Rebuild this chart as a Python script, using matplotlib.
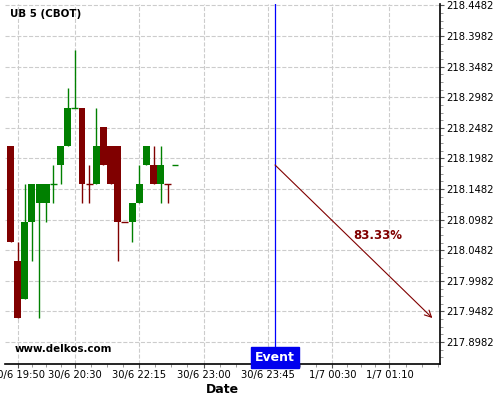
import matplotlib
matplotlib.use("Agg")
import matplotlib.pyplot as plt
from matplotlib.ticker import AutoMinorLocator, FixedLocator

# Candles (one per slot, prices in 1/32nds above 218)
opens = [218.21875, 218.03125, 217.96875, 218.09375, 218.125, 218.125, 218.15625, 218.1875,
         218.21875, 218.28125, 218.28125, 218.15625, 218.15625, 218.25, 218.21875, 218.21875,
         218.09375, 218.09375, 218.125, 218.1875, 218.1875, 218.15625, 218.15625, 218.1875]
highs = [218.21875, 218.0625, 218.15625, 218.15625, 218.15625, 218.15625, 218.1875, 218.21875,
         218.3125, 218.375, 218.28125, 218.1875, 218.28125, 218.25, 218.21875, 218.21875,
         218.09375, 218.125, 218.1875, 218.21875, 218.21875, 218.21875, 218.15625, 218.1875]
lows = [218.0625, 217.9375, 217.96875, 218.03125, 217.9375, 218.09375, 218.125, 218.15625,
        218.21875, 218.28125, 218.125, 218.125, 218.15625, 218.1875, 218.15625, 218.03125,
        218.09375, 218.0625, 218.125, 218.1875, 218.15625, 218.125, 218.125, 218.1875]
closes = [218.0625, 217.9375, 218.09375, 218.15625, 218.15625, 218.15625, 218.15625, 218.21875,
          218.28125, 218.28125, 218.15625, 218.15625, 218.21875, 218.1875, 218.15625, 218.09375,
          218.09375, 218.125, 218.15625, 218.21875, 218.15625, 218.1875, 218.15625, 218.1875]
# candle colour as shown (True = up/green)
ups = [False, False, True, True, True, True, True, True, True, True, False, False,
       True, False, False, False, False, True, True, True, False, True, False, True]

x_tick_slots = [1, 9, 18, 27, 36, 45, 53]
x_tick_labels = ["30/6 19:50", "30/6 20:30", "30/6 22:15", "30/6 23:00",
                 "30/6 23:45", "1/7 00:30", "1/7 01:10"]
y_ticks = [217.8982, 217.9482, 217.9982, 218.0482, 218.0982, 218.1482,
           218.1982, 218.2482, 218.2982, 218.3482, 218.3982, 218.4482]

event_slot = 37
arrow_start = (37, 218.1875)
arrow_end = (59, 217.9375)
prob_text = "83.33%"

GREEN = "#008000"
RED = "#800000"

fig = plt.figure(figsize=(5, 4), dpi=100)
ax = fig.add_axes([0.01, 0.09, 0.87, 0.90])

for i in range(len(opens)):
    c = GREEN if ups[i] else RED
    ax.vlines(i, lows[i], highs[i], color=c, linewidth=1, zorder=2)
    lo = min(opens[i], closes[i])
    h = abs(closes[i] - opens[i])
    if h == 0:
        ax.hlines(opens[i], i - 0.48, i + 0.48, color=c, linewidth=1, zorder=3)
    else:
        ax.bar(i, h, bottom=lo, width=0.97, color=c, edgecolor=c, linewidth=0, zorder=3)

# event line and label
ax.axvline(event_slot, color="blue", linewidth=0.9, zorder=4)
ax.text(event_slot, 217.8624, "Event", ha="center", va="bottom", color="white",
        fontsize=9, fontweight="bold", zorder=5,
        bbox=dict(facecolor="#0000ee", edgecolor="#0000ee", boxstyle="square,pad=0.3"))

# prediction arrow
ax.annotate("", xy=arrow_end, xytext=arrow_start,
            arrowprops=dict(arrowstyle="->", color=RED, lw=0.8, mutation_scale=12,
                            shrinkA=0, shrinkB=0), zorder=5)
ax.text(51.4, 218.0726, prob_text, color=RED, fontsize=8.5, fontweight="bold",
        ha="center", va="center")

ax.text(0.012, 0.985, "UB 5 (CBOT)", transform=ax.transAxes, fontsize=7.4,
        fontweight="bold", ha="left", va="top")
ax.text(0.023, 0.027, "www.delkos.com", transform=ax.transAxes, fontsize=7.4,
        fontweight="bold", ha="left", va="bottom")

ax.set_xlim(-0.77, 60.07)
ax.set_ylim(217.8624, 218.4505)

ax.set_xticks(x_tick_slots)
ax.set_xticklabels(x_tick_labels, fontsize=7.2)
minor_x = []
for a, b in zip(x_tick_slots[:-1], x_tick_slots[1:]):
    minor_x += [a + (b - a) * k / 4 for k in (1, 2, 3)]
minor_x += [53 + 2.25 * k for k in (1, 2, 3)]
ax.xaxis.set_minor_locator(FixedLocator(minor_x))

ax.yaxis.tick_right()
ax.set_yticks(y_ticks)
ax.set_yticklabels([f"{v:.4f}" for v in y_ticks], fontsize=7.2)
ax.yaxis.set_minor_locator(AutoMinorLocator(4))

ax.tick_params(axis="both", which="major", length=3, color="#555555", pad=1.5)
ax.tick_params(axis="both", which="minor", length=2, color="#888888")

ax.grid(True, which="major", linestyle="--", color="#cccccc", linewidth=0.8, zorder=0)
ax.set_axisbelow(True)

for side in ("top", "left"):
    ax.spines[side].set_visible(False)
ax.spines["bottom"].set_linewidth(1.2)
ax.spines["right"].set_linewidth(1.2)

ax.set_xlabel("Date", fontsize=9, fontweight="bold", labelpad=2)

fig.savefig("out.png", dpi=100)
